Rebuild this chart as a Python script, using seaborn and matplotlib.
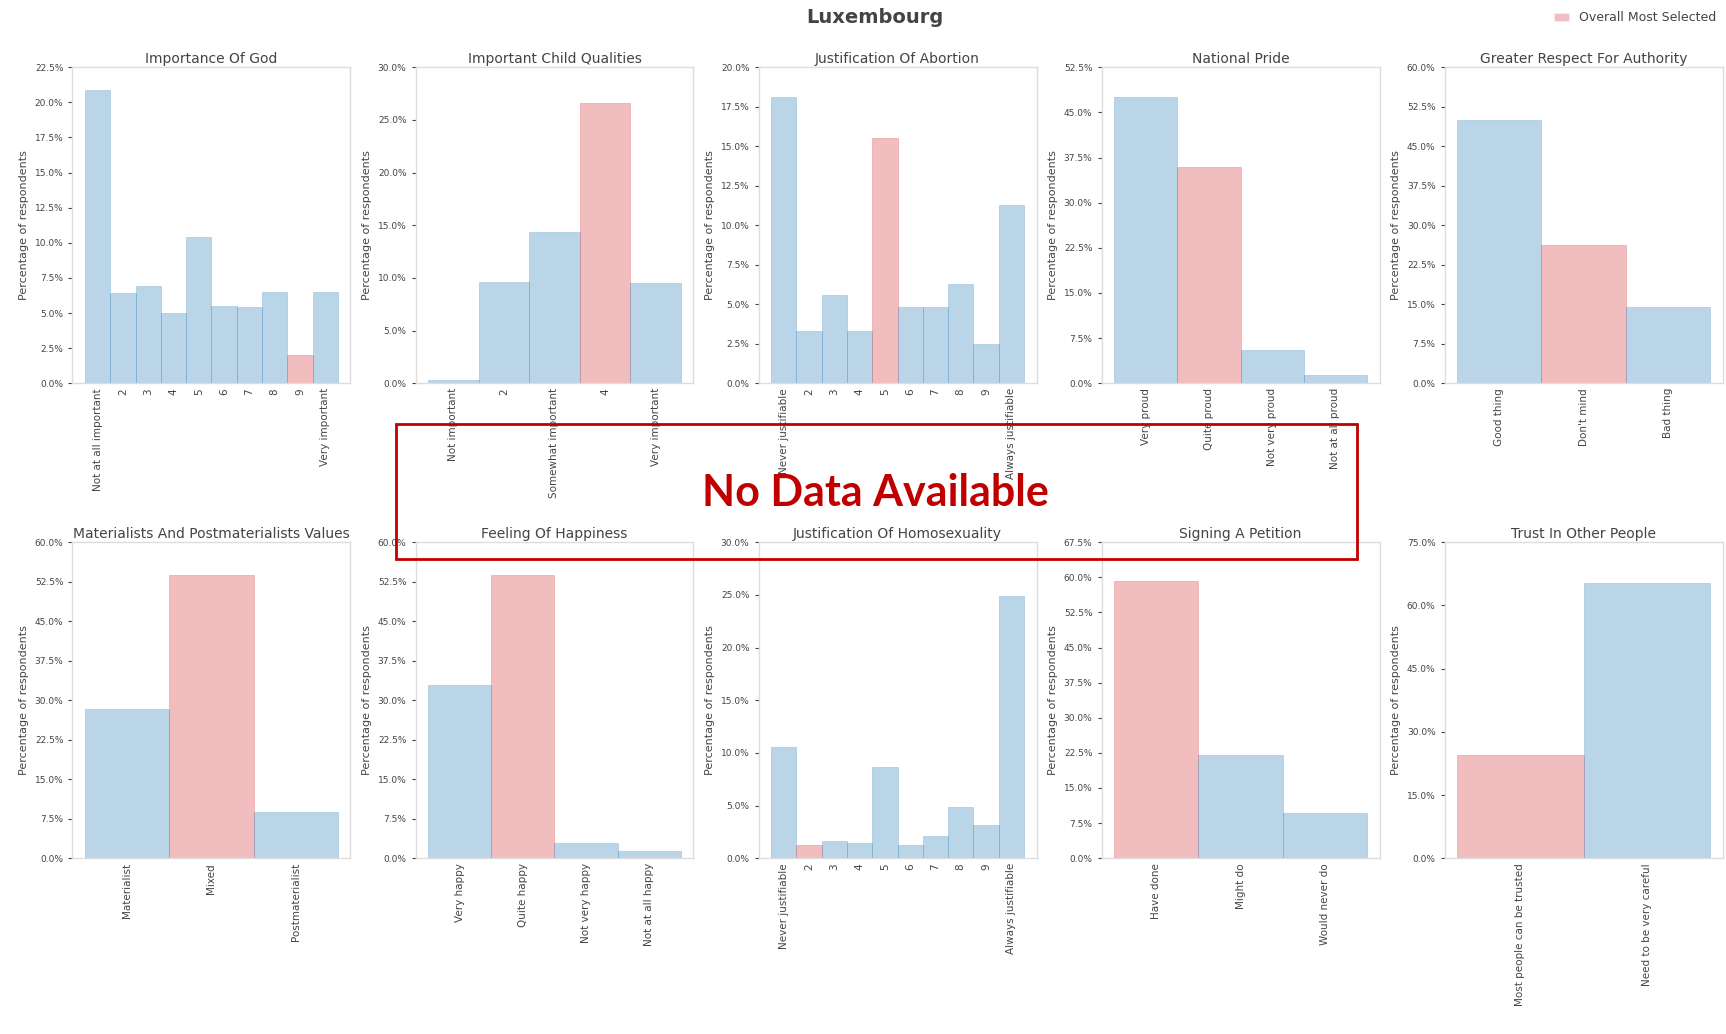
import matplotlib
matplotlib.use("Agg")
import matplotlib.pyplot as plt
import matplotlib.patches as mpatches
from matplotlib.ticker import PercentFormatter
import numpy as np
import pandas as pd
import seaborn as sns

sns.set_theme(style="white")
plt.rcParams["font.family"] = ["DejaVu Sans"]

# textos
COUNTRY = "Luxembourg"
LEGEND_LABEL = "Overall Most Selected"
Y_LABEL = "Percentage of respondents"
NO_DATA = "No Data Available"

# categorías
mid_scale = ["2", "3", "4", "5", "6", "7", "8", "9"]
god_cats = ["Not at all important"] + mid_scale + ["Very important"]
child_cats = ["Not important", "2", "Somewhat important", "4", "Very important"]
justif_cats = ["Never justifiable"] + mid_scale + ["Always justifiable"]
pride_cats = ["Very proud", "Quite proud", "Not very proud", "Not at all proud"]
authority_cats = ["Good thing", "Don't mind", "Bad thing"]
postmat_cats = ["Materialist", "Mixed", "Postmaterialist"]
happy_cats = ["Very happy", "Quite happy", "Not very happy", "Not at all happy"]
petition_cats = ["Have done", "Might do", "Would never do"]
trust_cats = ["Most people can be trusted", "Need to be very careful"]

# valores (%)
god_vals = [20.9, 6.4, 6.9, 5.0, 10.4, 5.5, 5.4, 6.5, 2.0, 6.5]
child_vals = [0.3, 9.6, 14.4, 26.6, 9.5]
abortion_vals = [18.1, 3.3, 5.6, 3.3, 15.5, 4.8, 4.8, 6.3, 2.5, 11.3]
pride_vals = [47.5, 35.9, 5.5, 1.4]
authority_vals = [49.9, 26.2, 14.5]
postmat_vals = [28.4, 53.7, 8.8]
happy_vals = [32.8, 53.7, 2.8, 1.3]
homosex_vals = [10.6, 1.3, 1.6, 1.4, 8.7, 1.3, 2.1, 4.9, 3.2, 24.9]
petition_vals = [59.3, 22.1, 9.6]
trust_vals = [24.6, 65.4]

# opción más elegida en general (resaltada)
god_top = "9"
child_top = "4"
abortion_top = "5"
pride_top = "Quite proud"
authority_top = "Don't mind"
postmat_top = "Mixed"
happy_top = "Quite happy"
homosex_top = "2"
petition_top = "Have done"
trust_top = "Most people can be trusted"

# ejes y
y_tops = [22.5, 30, 20, 52.5, 60, 60, 60, 30, 67.5, 75]
y_steps = [2.5, 5, 2.5, 7.5, 7.5, 7.5, 7.5, 5, 7.5, 15]

panels = [
    ("Importance Of God", god_cats, god_vals, god_top),
    ("Important Child Qualities", child_cats, child_vals, child_top),
    ("Justification Of Abortion", justif_cats, abortion_vals, abortion_top),
    ("National Pride", pride_cats, pride_vals, pride_top),
    ("Greater Respect For Authority", authority_cats, authority_vals, authority_top),
    ("Materialists And Postmaterialists Values", postmat_cats, postmat_vals, postmat_top),
    ("Feeling Of Happiness", happy_cats, happy_vals, happy_top),
    ("Justification Of Homosexuality", justif_cats, homosex_vals, homosex_top),
    ("Signing A Petition", petition_cats, petition_vals, petition_top),
    ("Trust In Other People", trust_cats, trust_vals, trust_top),
]

BLUE = "#1f77b4"
RED = "#d62728"
TEXT = "#444444"

fig, axes = plt.subplots(2, 5, figsize=(17.26, 10.34), dpi=100)
fig.subplots_adjust(left=0.042, right=0.998, top=0.935, bottom=0.170,
                    wspace=0.234, hspace=0.503)

for ax, (title, cats, vals, top), ytop, ystep in zip(axes.flat, panels, y_tops, y_steps):
    df = pd.DataFrame({"answer": cats, "pct": vals})
    pal = {c: (RED if c == top else BLUE) for c in cats}
    sns.barplot(data=df, x="answer", y="pct", hue="answer", palette=pal,
                order=cats, hue_order=cats, width=1.0, alpha=0.3,
                saturation=1, linewidth=0.5, legend=False, ax=ax)
    for p in ax.patches:
        p.set_edgecolor(p.get_facecolor()[:3])
    n = len(cats)
    ax.set_xlim(-0.5 - 0.05 * n, n - 0.5 + 0.05 * n)
    ax.set_ylim(0, ytop)
    ax.set_yticks(np.arange(0, ytop + 0.01, ystep))
    ax.yaxis.set_major_formatter(PercentFormatter(decimals=1))
    ax.set_title(title, fontsize=10, color=TEXT, pad=3)
    ax.set_xlabel("")
    ax.set_ylabel(Y_LABEL, fontsize=8, color=TEXT)
    ax.tick_params(axis="x", labelrotation=90, labelsize=7.5, colors=TEXT, length=0)
    ax.tick_params(axis="y", labelsize=6.5, colors=TEXT, left=True, length=3, width=0.8)
    for s in ax.spines.values():
        s.set_color("#dddddd")
        s.set_linewidth(1.0)

fig.suptitle(COUNTRY, x=0.507, y=0.992, fontsize=14, fontweight="bold", color=TEXT)

handle = mpatches.Patch(facecolor=RED, alpha=0.3, label=LEGEND_LABEL)
fig.legend(handles=[handle], loc="upper left", bbox_to_anchor=(0.894, 1.0),
           frameon=False, fontsize=9, labelcolor=TEXT, handlelength=1.2)

# recuadro de aviso
box = mpatches.Rectangle((0.2294, 0.4594), 0.5568, 0.1306, transform=fig.transFigure,
                         fill=False, edgecolor="#c00000", linewidth=2)
fig.patches.append(box)
fig.text(0.507, 0.523, NO_DATA, ha="center", va="center", fontsize=31,
         fontweight="bold", color="#c00000",
         family=["Liberation Sans Narrow", "Lato", "DejaVu Sans"])

fig.savefig("out.png", dpi=100)
